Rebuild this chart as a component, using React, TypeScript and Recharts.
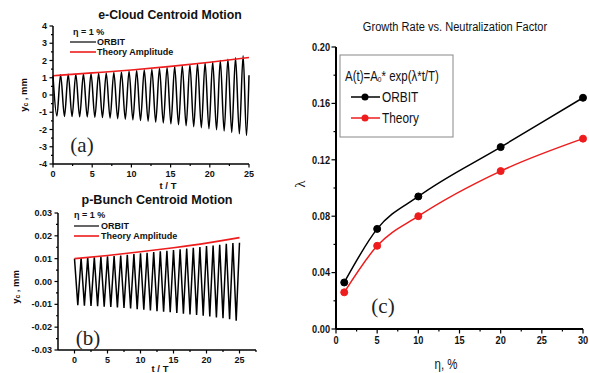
import { Line, LineChart, XAxis, YAxis } from "recharts";

// (a) e-cloud centroid: extrema of the ORBIT trace
const A_T = [
  0, 0.49, 0.97, 1.46, 1.94, 2.43, 2.91, 3.4, 3.88, 4.37, 4.85, 5.34, 5.82, 6.31, 6.79, 7.28, 7.76, 8.25,
  8.73, 9.22, 9.7, 10.19, 10.67, 11.16, 11.64, 12.13, 12.61, 13.1, 13.58, 14.07, 14.55, 15.04, 15.52, 16.01,
  16.49, 16.98, 17.46, 17.95, 18.43, 18.92, 19.4, 19.89, 20.37, 20.86, 21.34, 21.83, 22.31, 22.8, 23.28,
  23.77, 24.25, 24.68, 25,
];
const A_ORBIT = [
  1.1, -1.22, 1.18, -1.24, 1.2, -1.25, 1.21, -1.26, 1.22, -1.27, 1.24, -1.29, 1.26, -1.31, 1.28, -1.34, 1.31,
  -1.37, 1.34, -1.4, 1.38, -1.44, 1.42, -1.48, 1.46, -1.52, 1.5, -1.57, 1.55, -1.62, 1.6, -1.67, 1.65, -1.72,
  1.7, -1.78, 1.76, -1.84, 1.81, -1.9, 1.87, -1.96, 1.93, -2.02, 2.0, -2.09, 2.07, -2.17, 2.16, -2.25, 2.28,
  -2.35, 1.15,
];
const A_TH_T = [0, 5, 10, 15, 20, 25];
const A_THEORY = [1.12, 1.28, 1.45, 1.66, 1.9, 2.17];
const A_XTICKS = [0, 2.5, 5, 7.5, 10, 12.5, 15, 17.5, 20, 22.5, 25];
const A_XMAJOR = [0, 5, 10, 15, 20, 25];
const A_YTICKS = [-4, -3.5, -3, -2.5, -2, -1.5, -1, -0.5, 0, 0.5, 1, 1.5, 2, 2.5, 3, 3.5, 4];
const A_YMAJOR = [-4, -3, -2, -1, 0, 1, 2, 3, 4];

// (b) p-bunch centroid
const B_T = [
  0, 0.5, 1, 1.5, 2, 2.5, 3, 3.5, 4, 4.5, 5, 5.5, 6, 6.5, 7, 7.5, 8, 8.5, 9, 9.5, 10, 10.5, 11, 11.5, 12,
  12.5, 13, 13.5, 14, 14.5, 15, 15.5, 16, 16.5, 17, 17.5, 18, 18.5, 19, 19.5, 20, 20.5, 21, 21.5, 22, 22.5,
  23, 23.5, 24, 24.5, 25,
];
const B_ORBIT = [
  0.01, -0.0104, 0.0103, -0.0106, 0.0105, -0.0107, 0.0106, -0.0108, 0.0108, -0.011, 0.011, -0.0112, 0.0112,
  -0.0114, 0.0114, -0.0116, 0.0117, -0.0118, 0.012, -0.0121, 0.0123, -0.0124, 0.0126, -0.0127, 0.0129,
  -0.013, 0.0132, -0.0132, 0.0135, -0.0135, 0.0138, -0.0138, 0.0141, -0.0141, 0.0144, -0.0144, 0.0148,
  -0.0147, 0.0151, -0.015, 0.0155, -0.0153, 0.0158, -0.0157, 0.0161, -0.0161, 0.0165, -0.0165, 0.0168,
  -0.0172, 0.017,
];
const B_TH_T = [0, 5, 10, 15, 20, 25];
const B_THEORY = [0.01, 0.0114, 0.013, 0.0148, 0.0168, 0.0192];
const B_XTICKS = [0, 2.5, 5, 7.5, 10, 12.5, 15, 17.5, 20, 22.5, 25, 27.5];
const B_XMAJOR = [0, 5, 10, 15, 20, 25];
const B_YTICKS = [-0.03, -0.025, -0.02, -0.015, -0.01, -0.005, 0, 0.005, 0.01, 0.015, 0.02, 0.025, 0.03];
const B_YMAJOR = [-0.03, -0.02, -0.01, 0, 0.01, 0.02, 0.03];

// (c) growth rate vs neutralization
const ETA = [1, 5, 10, 20, 30];
const ORBIT_RATE = [0.033, 0.071, 0.094, 0.129, 0.164];
const THEORY_RATE = [0.026, 0.059, 0.08, 0.112, 0.135];
const C_XTICKS = [0, 2.5, 5, 7.5, 10, 12.5, 15, 17.5, 20, 22.5, 25, 27.5, 30];
const C_XMAJOR = [0, 5, 10, 15, 20, 25, 30];
const C_YTICKS = [0, 0.02, 0.04, 0.06, 0.08, 0.1, 0.12, 0.14, 0.16, 0.18, 0.2];
const C_YMAJOR = [0, 0.04, 0.08, 0.12, 0.16, 0.2];

const RED = "#ee1c1c";
const sans = "'Liberation Sans', Arial, sans-serif";
const serif = "'Liberation Serif', 'Times New Roman', serif";
// no narrow face installed, so panel (c) text is squeezed horizontally instead
const SQ = 0.82;

const isIn = (arr: number[], v: number) => arr.some((m) => Math.abs(m - v) < 1e-9);

type TickStyle = { size: number; weight: number; len: [number, number]; sx: number };

// tickSize 4 + tickMargin 2 => the axis line sits 6px from the label anchor
function leftTick(majors: number[], fmt: (v: number) => string, s: TickStyle) {
  return (p: any) => {
    const v = Number(p.payload.value);
    const major = isIn(majors, v);
    const ax = p.x + 6;
    return (
      <g>
        <line x1={ax} x2={ax - (major ? s.len[0] : s.len[1])} y1={p.y} y2={p.y} stroke="#000" strokeWidth={1.2} />
        {major && (
          <text transform={`translate(${p.x},${p.y}) scale(${s.sx},1)`} textAnchor="end" dominantBaseline="central"
            fontFamily={sans} fontSize={s.size} fontWeight={s.weight} fill="#111">
            {fmt(v)}
          </text>
        )}
      </g>
    );
  };
}

function bottomTick(majors: number[], s: TickStyle) {
  return (p: any) => {
    const v = Number(p.payload.value);
    const major = isIn(majors, v);
    const ay = p.y - 6;
    return (
      <g>
        <line x1={p.x} x2={p.x} y1={ay} y2={ay + (major ? s.len[0] : s.len[1])} stroke="#000" strokeWidth={1.2} />
        {major && (
          <text transform={`translate(${p.x},${p.y}) scale(${s.sx},1)`} dy="0.75em" textAnchor="middle"
            fontFamily={sans} fontSize={s.size} fontWeight={s.weight} fill="#111">
            {String(v)}
          </text>
        )}
      </g>
    );
  };
}

const small: TickStyle = { size: 9, weight: 700, len: [3.5, 2], sx: 1 };
const big: TickStyle = { size: 11.5, weight: 700, len: [4.5, 2.5], sx: 0.8 };
const axisLine = { stroke: "#000", strokeWidth: 1.5 };

export default function App() {
  const aOrbit = A_T.map((t, i) => ({ t, y: A_ORBIT[i] }));
  const aTheory = A_TH_T.map((t, i) => ({ t, y: A_THEORY[i] }));
  const bOrbit = B_T.map((t, i) => ({ t, y: B_ORBIT[i] }));
  const bTheory = B_TH_T.map((t, i) => ({ t, y: B_THEORY[i] }));
  const cOrbit = ETA.map((t, i) => ({ t, y: ORBIT_RATE[i] }));
  const cTheory = ETA.map((t, i) => ({ t, y: THEORY_RATE[i] }));

  return (
    <div style={{ position: "absolute", left: 0, top: 0, width: 589, height: 373, background: "#fff", overflow: "hidden" }}>
      <div style={{ position: "absolute", left: 0, top: 0 }}>
        <LineChart width={270} height={190} margin={{ top: 26, right: 21, bottom: 6, left: 33 }}>
          <XAxis type="number" dataKey="t" domain={[0, 25]} ticks={A_XTICKS} interval={0} height={20}
            tickSize={4} tickMargin={2} tickLine={false} axisLine={axisLine} tick={bottomTick(A_XMAJOR, small)} />
          <YAxis type="number" domain={[-4, 4]} ticks={A_YTICKS} interval={0} width={20}
            tickSize={4} tickMargin={2} tickLine={false} axisLine={axisLine} tick={leftTick(A_YMAJOR, (v) => String(v), small)} />
          <Line data={aOrbit} dataKey="y" type="monotone" stroke="#000" strokeWidth={1.5} dot={false} isAnimationActive={false} />
          <Line data={aTheory} dataKey="y" type="monotone" stroke={RED} strokeWidth={1.6} dot={false} isAnimationActive={false} />
        </LineChart>
      </div>

      <div style={{ position: "absolute", left: 0, top: 190 }}>
        <LineChart width={290} height={183} margin={{ top: 23, right: 34, bottom: 3, left: 24 }}>
          <XAxis type="number" dataKey="t" domain={[-2.5, 27.5]} ticks={B_XTICKS} interval={0} height={20}
            tickSize={4} tickMargin={2} tickLine={false} axisLine={axisLine} tick={bottomTick(B_XMAJOR, small)} />
          <YAxis type="number" domain={[-0.03, 0.03]} ticks={B_YTICKS} interval={0} width={34}
            tickSize={4} tickMargin={2} tickLine={false} axisLine={axisLine} tick={leftTick(B_YMAJOR, (v) => v.toFixed(2), small)} />
          <Line data={bOrbit} dataKey="y" type="linear" stroke="#000" strokeWidth={1.5} dot={false} isAnimationActive={false} />
          <Line data={bTheory} dataKey="y" type="monotone" stroke={RED} strokeWidth={1.6} dot={false} isAnimationActive={false} />
        </LineChart>
      </div>

      <div style={{ position: "absolute", left: 290, top: 0 }}>
        <LineChart width={299} height={373} margin={{ top: 47, right: 6, bottom: 24, left: 16 }}>
          <XAxis type="number" dataKey="t" domain={[0, 30]} ticks={C_XTICKS} interval={0} height={20}
            tickSize={4} tickMargin={2} tickLine={false} axisLine={{ stroke: "#000", strokeWidth: 2 }} tick={bottomTick(C_XMAJOR, big)} />
          <YAxis type="number" domain={[0, 0.2]} ticks={C_YTICKS} interval={0} width={30}
            tickSize={4} tickMargin={2} tickLine={false} axisLine={{ stroke: "#000", strokeWidth: 2 }} tick={leftTick(C_YMAJOR, (v) => v.toFixed(2), big)} />
          <Line data={cOrbit} dataKey="y" type="monotone" stroke="#000" strokeWidth={1.5}
            dot={{ r: 3.5, fill: "#000", stroke: "#000", strokeWidth: 1 }} isAnimationActive={false} />
          <Line data={cTheory} dataKey="y" type="monotone" stroke={RED} strokeWidth={1.5}
            dot={{ r: 3.5, fill: RED, stroke: RED, strokeWidth: 1 }} isAnimationActive={false} />
        </LineChart>
      </div>

      {/* titles, labels and the hand-drawn legends */}
      <svg width={589} height={373} style={{ position: "absolute", left: 0, top: 0, pointerEvents: "none" }}>
        <g fontFamily={sans} fontWeight={700} fill="#111">
          <text x={170} y={15} fontSize={12.3} textAnchor="middle" dominantBaseline="central">e-Cloud Centroid Motion</text>
          <text x={73} y={32} fontSize={9} dominantBaseline="central">η = 1 %</text>
          <line x1={70} x2={96} y1={42} y2={42} stroke="#000" strokeWidth={1.2} />
          <text x={97} y={42} fontSize={9} dominantBaseline="central">ORBIT</text>
          <line x1={70} x2={96} y1={52} y2={52} stroke={RED} strokeWidth={1.6} />
          <text x={97} y={52} fontSize={9} dominantBaseline="central">Theory Amplitude</text>
          <text x={168} y={185} fontSize={9.5} textAnchor="middle" dominantBaseline="central">t / T</text>
          <text transform="translate(23,95) rotate(-90)" fontSize={9.5} textAnchor="middle" dominantBaseline="central">
            y<tspan fontSize={6.5} dy={2}>c</tspan><tspan dy={-2}> , mm</tspan>
          </text>

          <text x={157} y={200} fontSize={12.6} textAnchor="middle" dominantBaseline="central">p-Bunch Centroid Motion</text>
          <text x={74} y={215} fontSize={9} dominantBaseline="central">η = 1 %</text>
          <line x1={74} x2={99} y1={226} y2={226} stroke="#000" strokeWidth={1.2} />
          <text x={101} y={226} fontSize={9} dominantBaseline="central">ORBIT</text>
          <line x1={74} x2={99} y1={236} y2={236} stroke={RED} strokeWidth={1.6} />
          <text x={101} y={236} fontSize={9} dominantBaseline="central">Theory Amplitude</text>
          <text x={160} y={368} fontSize={9.5} textAnchor="middle" dominantBaseline="central">t / T</text>
          <text transform="translate(15,287) rotate(-90)" fontSize={9.5} textAnchor="middle" dominantBaseline="central">
            y<tspan fontSize={6.5} dy={2}>c</tspan><tspan dy={-2}> , mm</tspan>
          </text>
        </g>

        <g fontFamily={serif} fill="#222" fontSize={21}>
          <text x={82} y={145} textAnchor="middle" dominantBaseline="central">(a)</text>
          <text x={88} y={338} textAnchor="middle" dominantBaseline="central">(b)</text>
          <text x={383} y={306} textAnchor="middle" dominantBaseline="central">(c)</text>
        </g>

        <g fontFamily={sans} fill="#111">
          <text transform={`translate(455,27) scale(${SQ},1)`} fontSize={13.5} textAnchor="middle" dominantBaseline="central">
            Growth Rate vs. Neutralization Factor
          </text>
          <text transform="translate(300,184) rotate(-90)" fontFamily={serif} fontSize={15} textAnchor="middle" dominantBaseline="central">λ</text>
          <text transform={`translate(446,364) scale(${SQ},1)`} fontSize={14} textAnchor="middle" dominantBaseline="central">η, %</text>
          <rect x={340} y={55} width={113} height={82} fill="none" stroke="#888" strokeWidth={1} />
          <text transform={`translate(345,76) scale(${SQ},1)`} fontSize={14} dominantBaseline="central">
            A(t)=A<tspan fontSize={8} dy={3}>0</tspan><tspan dy={-3}>* exp(λ*t/T)</tspan>
          </text>
          <line x1={351} x2={380} y1={97} y2={97} stroke="#000" strokeWidth={1.5} />
          <circle cx={365} cy={97} r={3.5} fill="#000" />
          <text transform={`translate(382,97) scale(${SQ},1)`} fontSize={14.5} dominantBaseline="central">ORBIT</text>
          <line x1={351} x2={380} y1={118} y2={118} stroke={RED} strokeWidth={1.5} />
          <circle cx={365} cy={118} r={3.5} fill={RED} />
          <text transform={`translate(382,118) scale(${SQ},1)`} fontSize={14.5} dominantBaseline="central">Theory</text>
        </g>
      </svg>
    </div>
  );
}
